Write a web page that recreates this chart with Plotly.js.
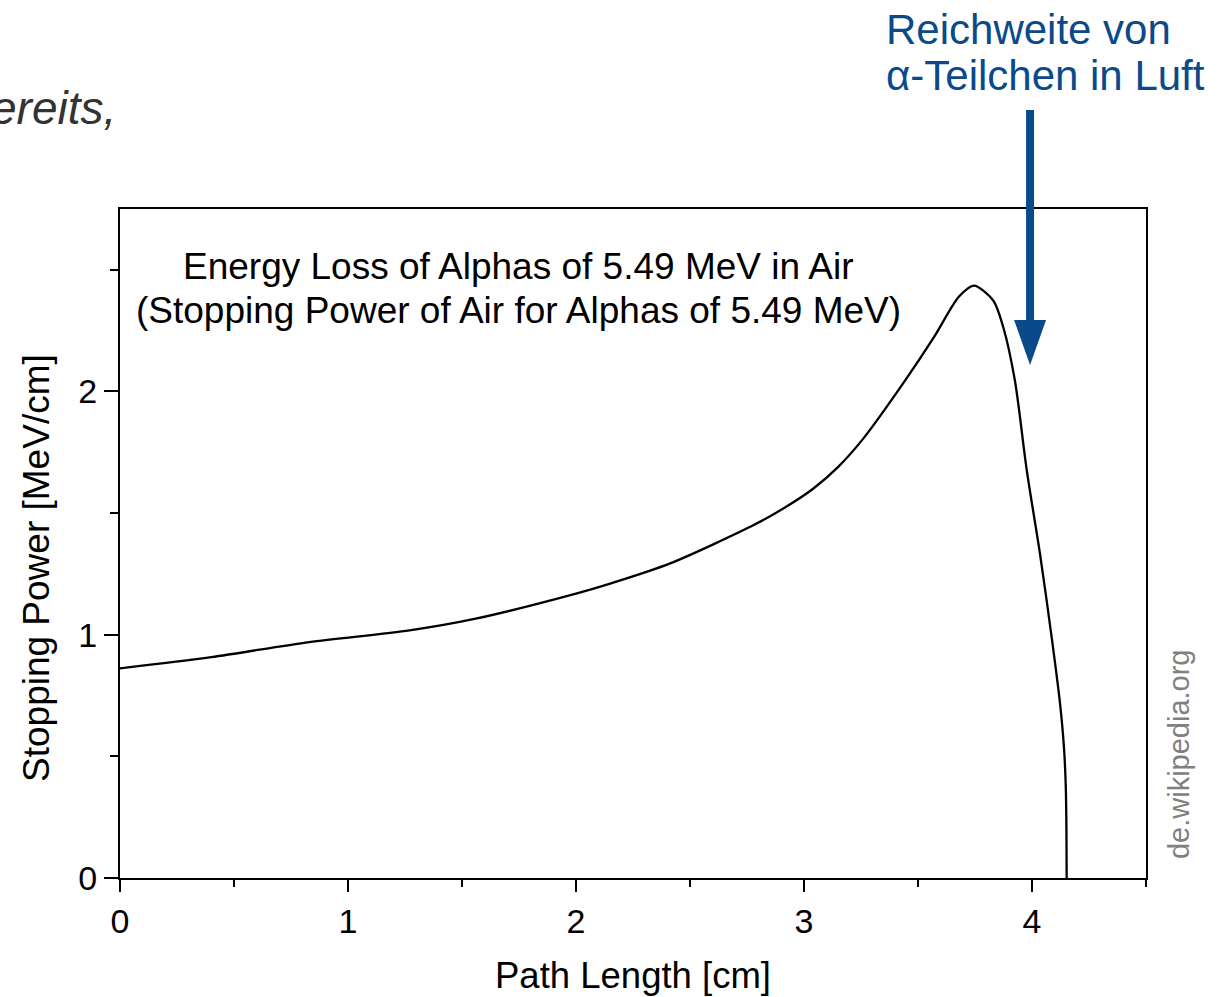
<!DOCTYPE html>
<html>
<head>
<meta charset="utf-8">
<script src="https://cdn.plot.ly/plotly-3.0.1.min.js"></script>
<style>
  html, body { margin: 0; padding: 0; background: #ffffff; }
  #chart { width: 1223px; height: 997px; }
</style>
</head>
<body>
<div id="chart"></div>
<script>
// Path length [cm] and stopping power [MeV/cm]
const pathLength = [0, 0.40, 0.83, 1.27, 1.56, 2.00, 2.15, 2.41, 2.79, 2.92, 3.04, 3.15, 3.26, 3.44, 3.57, 3.68, 3.745, 3.83, 3.874, 3.925, 3.977, 4.035, 4.086, 4.123, 4.140, 4.148, 4.151, 4.152];
const stoppingPower = [0.862, 0.908, 0.970, 1.018, 1.066, 1.169, 1.210, 1.292, 1.456, 1.525, 1.600, 1.690, 1.806, 2.040, 2.223, 2.390, 2.435, 2.374, 2.264, 2.045, 1.676, 1.333, 0.991, 0.717, 0.540, 0.380, 0.200, 0.0];

const xTickVals = [0, 1, 2, 3, 4];
const xTickText = ['0', '1', '2', '3', '4'];
const yTickVals = [0, 1, 2];
const yTickText = ['0', '1', '2'];

const chartTitleLine1 = 'Energy Loss of Alphas of 5.49 MeV in Air';
const chartTitleLine2 = '(Stopping Power of Air for Alphas of 5.49 MeV)';
const xTitle = 'Path Length [cm]';
const yTitle = 'Stopping Power [MeV/cm]';
const noteLine1 = 'Reichweite von';
const noteLine2 = 'α-Teilchen in Luft';
const slideFragment = 'ereits,';
const sourceText = 'de.wikipedia.org';

const FONT = '"Liberation Sans", Arial, Helvetica, sans-serif';
const BLUE = 'rgb(10,74,138)';

const trace = {
  x: pathLength,
  y: stoppingPower,
  type: 'scatter',
  mode: 'lines',
  line: { color: '#000000', width: 2.3, shape: 'spline', smoothing: 0.8 },
  hoverinfo: 'skip',
  showlegend: false
};

const layout = {
  width: 1223,
  height: 997,
  margin: { l: 120, r: 77, t: 209, b: 119, pad: 0 },
  paper_bgcolor: '#ffffff',
  plot_bgcolor: '#ffffff',
  font: { family: FONT, color: '#000000', size: 34 },
  showlegend: false,
  xaxis: {
    range: [0, 4.5],
    autorange: false,
    tickmode: 'array',
    tickvals: xTickVals,
    ticktext: xTickText,
    ticks: 'outside',
    ticklen: 12,
    tickwidth: 2,
    tickcolor: '#000000',
    tickfont: { family: FONT, size: 34, color: '#000000' },
    minor: { dtick: 0.5, tick0: 0, ticks: 'outside', ticklen: 7, tickwidth: 2, tickcolor: '#000000', showgrid: false },
    showline: true,
    linecolor: '#000000',
    linewidth: 2,
    mirror: true,
    showgrid: false,
    zeroline: false,
    title: { text: xTitle, font: { family: FONT, size: 36.5, color: '#000000' }, standoff: 24 }
  },
  yaxis: {
    range: [0, 2.75],
    autorange: false,
    tickmode: 'array',
    tickvals: yTickVals,
    ticktext: yTickText,
    ticks: 'outside',
    ticklen: 14,
    tickwidth: 2,
    tickcolor: '#000000',
    tickfont: { family: FONT, size: 34, color: '#000000' },
    minor: { dtick: 0.5, tick0: 0, ticks: 'outside', ticklen: 8, tickwidth: 2, tickcolor: '#000000', showgrid: false },
    showline: true,
    linecolor: '#000000',
    linewidth: 2,
    mirror: true,
    showgrid: false,
    zeroline: false
  },
  annotations: [
    { xref: 'paper', yref: 'paper', x: -0.0809, y: 0.4634, xanchor: 'center', yanchor: 'middle', textangle: -90,
      text: yTitle, showarrow: false, font: { family: FONT, size: 37, color: '#000000' } },
    { xref: 'paper', yref: 'paper', x: 0.388, y: 0.914, xanchor: 'center', yanchor: 'middle',
      text: chartTitleLine1, showarrow: false, font: { family: FONT, size: 37, color: '#000000' } },
    { xref: 'paper', yref: 'paper', x: 0.388, y: 0.8485, xanchor: 'center', yanchor: 'middle',
      text: chartTitleLine2, showarrow: false, font: { family: FONT, size: 37, color: '#000000' } },
    { xref: 'paper', yref: 'paper', x: 0.745, y: 1.269, xanchor: 'left', yanchor: 'middle',
      text: noteLine1, showarrow: false, font: { family: FONT, size: 42, color: BLUE } },
    { xref: 'paper', yref: 'paper', x: 0.745, y: 1.200, xanchor: 'left', yanchor: 'middle',
      text: noteLine2, showarrow: false, font: { family: FONT, size: 42, color: BLUE } },
    { xref: 'paper', yref: 'paper', x: -0.002, y: 1.151, xanchor: 'right', yanchor: 'middle',
      text: '<i>' + slideFragment + '</i>', showarrow: false, font: { family: FONT, size: 46, color: '#333333' } },
    { xref: 'paper', yref: 'paper', x: 1.032, y: 0.185, xanchor: 'center', yanchor: 'middle', textangle: -90,
      text: sourceText, showarrow: false, font: { family: FONT, size: 29, color: '#808080' } }
  ],
  shapes: [
    { type: 'line', xref: 'paper', yref: 'paper', x0: 0.887, x1: 0.887, y0: 1.148, y1: 0.830,
      line: { color: BLUE, width: 8 } },
    { type: 'path', xref: 'paper', yref: 'paper',
      path: 'M 0.8714 0.834 L 0.9026 0.834 L 0.887 0.767 Z',
      fillcolor: BLUE, line: { color: BLUE, width: 0 } }
  ]
};

Plotly.newPlot('chart', [trace], layout, { displayModeBar: false, staticPlot: true });
</script>
</body>
</html>
